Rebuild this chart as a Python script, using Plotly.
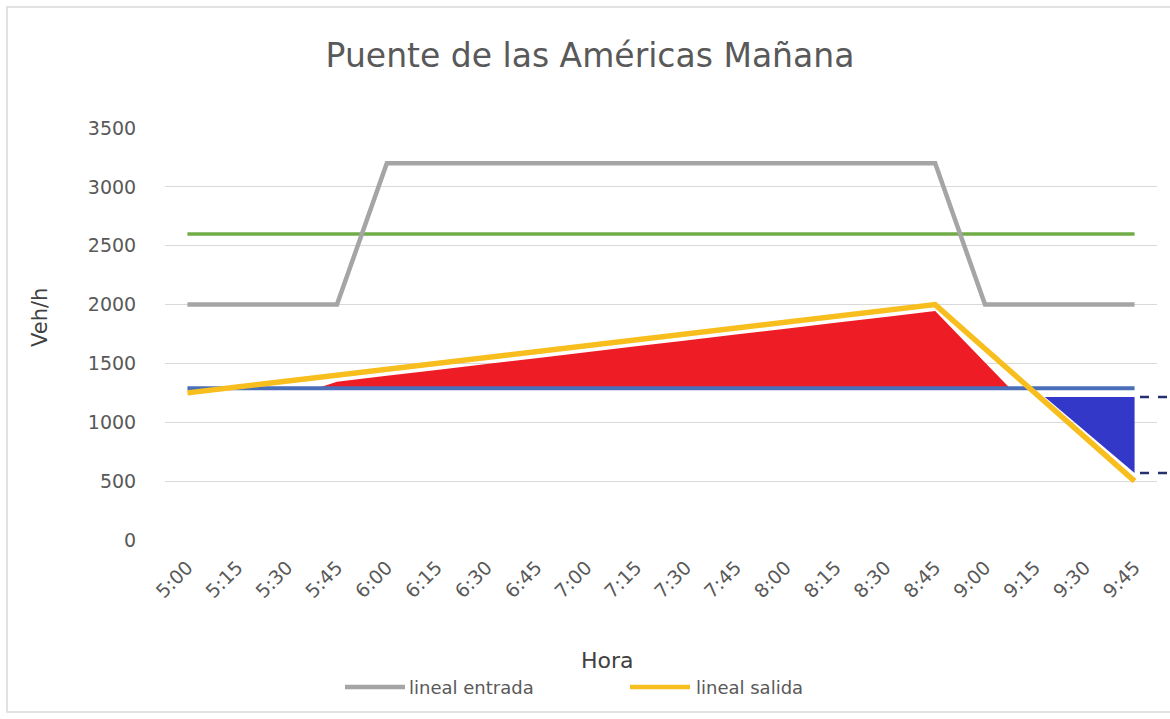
import plotly.graph_objects as go

# --- data -------------------------------------------------------------
horas = ["5:00", "5:15", "5:30", "5:45", "6:00", "6:15", "6:30", "6:45",
         "7:00", "7:15", "7:30", "7:45", "8:00", "8:15", "8:30", "8:45",
         "9:00", "9:15", "9:30", "9:45"]

lineal_entrada = [2000, 2000, 2000, 2000, 3200, 3200, 3200, 3200,
                  3200, 3200, 3200, 3200, 3200, 3200, 3200, 3200,
                  2000, 2000, 2000, 2000]

lineal_salida = [1250, 1300, 1350, 1400, 1450, 1500, 1550, 1600,
                 1650, 1700, 1750, 1800, 1850, 1900, 1950, 2000,
                 1625, 1250, 875, 500]

capacidad = [2600] * 20
demanda_base = [1290] * 20

# excess region (above base level) and deficit region (below it)
exceso_pos = [2.6, 3, 4, 5, 6, 7, 8, 9, 10, 11, 12, 13, 14, 15, 16.5]
exceso_top = [1290, 1345, 1395, 1445, 1495, 1545, 1595, 1645, 1695,
              1745, 1795, 1845, 1895, 1945, 1290]
base_exceso = 1290

deficit_pos = [17.2, 19, 19]
deficit_val = [1215, 1215, 570]

niveles_guia = [1215, 570]

y_ticks = [0, 500, 1000, 1500, 2000, 2500, 3000, 3500]

# --- geometry helpers (pixels -> paper) ---------------------------------
W, H = 1170, 719
L, R, T, B = 165, 13, 128, 179
PW, PH = W - L - R, H - T - B


def px(x):
    return (x - L) / PW


def py(y):
    return (H - B - y) / PH


pos = list(range(len(horas)))

fig = go.Figure()

# red excess area
fig.add_trace(go.Scatter(
    x=exceso_pos + exceso_pos[::-1],
    y=exceso_top + [base_exceso] * len(exceso_pos),
    fill="toself", fillcolor="#EE1C25", mode="none",
    hoverinfo="skip", showlegend=False))

# blue deficit area
fig.add_trace(go.Scatter(
    x=deficit_pos, y=deficit_val,
    fill="toself", fillcolor="#3338C8", mode="none",
    hoverinfo="skip", showlegend=False))

fig.add_trace(go.Scatter(x=pos, y=capacidad, mode="lines",
                         line=dict(color="#70AD47", width=3.5),
                         showlegend=False))
fig.add_trace(go.Scatter(x=pos, y=lineal_entrada, mode="lines",
                         line=dict(color="#A5A5A5", width=4.5),
                         name="lineal entrada", showlegend=False))
fig.add_trace(go.Scatter(x=pos, y=demanda_base, mode="lines",
                         line=dict(color="#4A6FB8", width=4),
                         showlegend=False))
fig.add_trace(go.Scatter(x=pos, y=lineal_salida, mode="lines",
                         line=dict(color="#F7BE1E", width=5.5),
                         name="lineal salida", showlegend=False))

shapes = []
# dashed guide lines to the right of the last point
for v in niveles_guia:
    shapes.append(dict(type="line", xref="paper", yref="y",
                       x0=px(1140), x1=px(1180), y0=v, y1=v,
                       line=dict(color="#25306E", width=2.5, dash="dash")))

# chart border (open on the right, running off the page)
shapes.append(dict(type="rect", xref="paper", yref="paper",
                   x0=px(7), x1=px(1260), y0=py(712), y1=py(7),
                   line=dict(color="#D9D9D9", width=1.5),
                   fillcolor="rgba(0,0,0,0)", layer="below"))

# legend samples
shapes.append(dict(type="line", xref="paper", yref="paper",
                   x0=px(345), x1=px(405), y0=py(687), y1=py(687),
                   line=dict(color="#A5A5A5", width=4.5)))
shapes.append(dict(type="line", xref="paper", yref="paper",
                   x0=px(630), x1=px(690), y0=py(687), y1=py(687),
                   line=dict(color="#F7BE1E", width=4.5)))

annotations = [
    dict(text="lineal entrada", xref="paper", yref="paper",
         x=px(407), y=py(687), xanchor="left", yanchor="middle",
         showarrow=False, font=dict(size=18, color="#595959")),
    dict(text="lineal salida", xref="paper", yref="paper",
         x=px(694), y=py(687), xanchor="left", yanchor="middle",
         showarrow=False, font=dict(size=18, color="#595959")),
    dict(text="Hora", xref="paper", yref="paper",
         x=px(607), y=py(660), xanchor="center", yanchor="middle",
         showarrow=False, font=dict(size=22, color="#404040")),
    dict(text="Veh/h", xref="paper", yref="paper", textangle=-90,
         x=px(40), y=py(318), xanchor="center", yanchor="middle",
         showarrow=False, font=dict(size=21, color="#404040")),
]

fig.update_layout(
    width=W, height=H,
    margin=dict(l=L, r=R, t=T, b=B),
    paper_bgcolor="white", plot_bgcolor="white",
    font=dict(family="DejaVu Sans", color="#595959"),
    title=dict(text="Puente de las Américas Mañana",
               x=590 / W, xanchor="center",
               y=1 - 55 / H, yanchor="middle",
               font=dict(size=33, color="#595959")),
    shapes=shapes,
    annotations=annotations,
    showlegend=False,
)

fig.update_xaxes(
    range=[-0.45, 19.45],
    tickmode="array", tickvals=pos, ticktext=horas,
    tickangle=-45, tickfont=dict(size=19, color="#595959"),
    ticks="outside", ticklen=8, tickcolor="rgba(0,0,0,0)",
    showgrid=False, zeroline=False, showline=False,
)

fig.update_yaxes(
    range=[0, 3500],
    tickmode="array", tickvals=y_ticks,
    tickfont=dict(size=19, color="#595959"),
    ticks="outside", ticklen=24, tickcolor="rgba(0,0,0,0)",
    showgrid=True, gridcolor="#D9D9D9", gridwidth=1,
    zeroline=False, showline=False,
)

fig.write_html("out.html")
